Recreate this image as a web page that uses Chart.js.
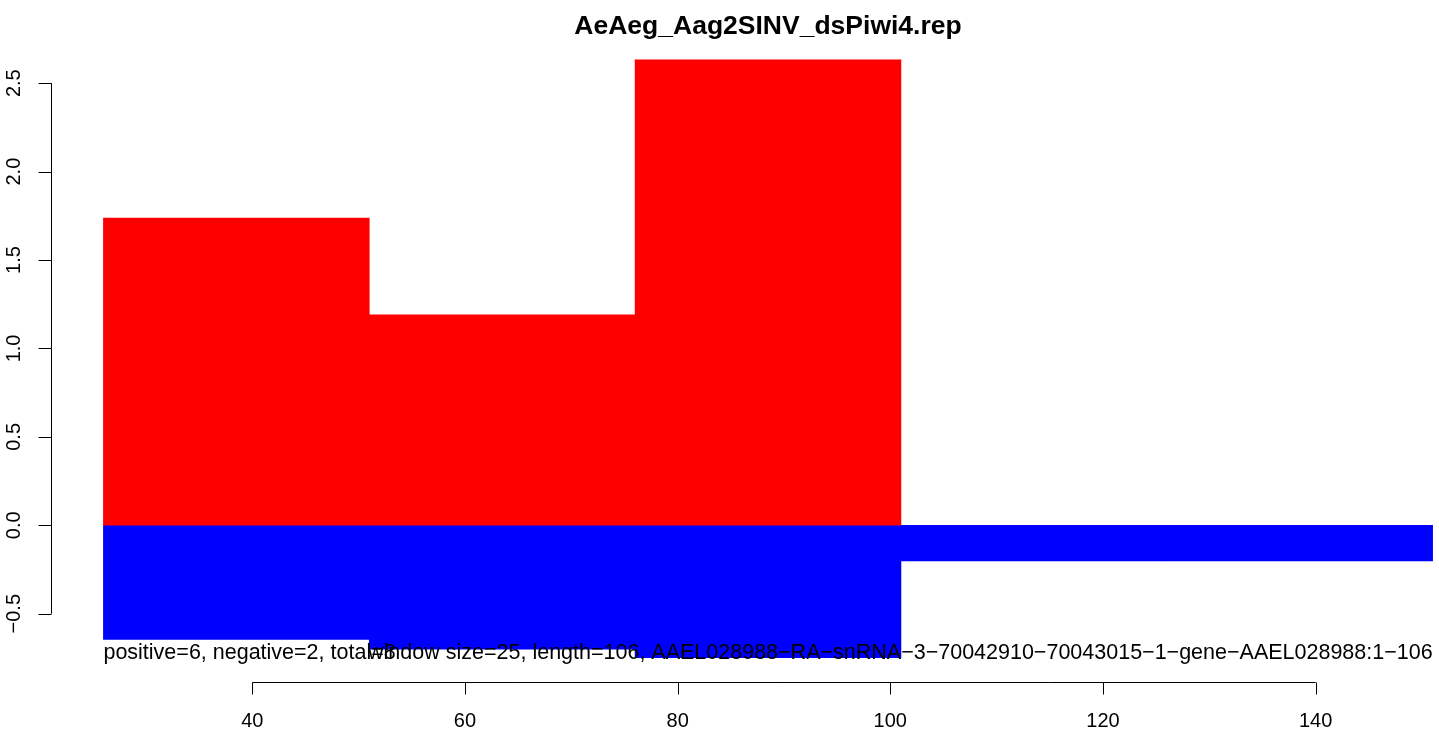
<!DOCTYPE html>
<html>
<head>
<meta charset="utf-8">
<script src="https://cdn.jsdelivr.net/npm/chart.js@4/dist/chart.umd.min.js"></script>
<style>
  html, body { margin: 0; padding: 0; background: #fff; }
  canvas { display: block; }
</style>
</head>
<body>
<canvas id="c" width="1439" height="732"></canvas>
<script>
// ── data ──────────────────────────────
const binEdges   = [26, 51, 76, 101, 126, 151];           // window size 25
const binCentres = [38.5, 63.5, 88.5, 113.5, 138.5];
const positive   = [1.738, 1.19, 2.632, null, null];
const negative   = [-0.645, -0.70, -0.749, -0.202, -0.202];
const xTicks     = [40, 60, 80, 100, 120, 140];
const yTicks     = [-0.5, 0, 0.5, 1, 1.5, 2, 2.5];
const yTickLabels = ['\u22120.5', '0.0', '0.5', '1.0', '1.5', '2.0', '2.5'];
const title      = 'AeAeg_Aag2SINV_dsPiwi4.rep';
const noteLeft   = 'positive=6, negative=2, total=8';
const noteRight  = 'window size=25, length=106, AAEL028988\u2212RA\u2212snRNA\u22123\u221270042910\u221270043015\u22121\u2212gene\u2212AAEL028988:1\u2212106';

const FONT = '"Liberation Sans", Arial, Helvetica, sans-serif';

// R-style axes, title and notes
const rAxes = {
  id: 'r-axes',
  afterDraw(chart) {
    const { ctx: c, scales: { x, y }, chartArea } = chart;
    c.save();
    c.strokeStyle = '#000'; c.fillStyle = '#000'; c.lineWidth = 1;

    // y axis
    const ax = Math.round(chartArea.left) + 0.5;
    c.beginPath();
    c.moveTo(ax, y.getPixelForValue(yTicks[0]));
    c.lineTo(ax, y.getPixelForValue(yTicks[yTicks.length - 1]));
    yTicks.forEach(v => {
      const py = Math.round(y.getPixelForValue(v)) + 0.5;
      c.moveTo(ax, py); c.lineTo(ax - 13, py);
    });
    c.stroke();
    c.font = '20px ' + FONT;
    c.textAlign = 'center'; c.textBaseline = 'alphabetic';
    yTicks.forEach((v, i) => {
      c.save();
      c.translate(20, y.getPixelForValue(v));
      c.rotate(-Math.PI / 2);
      c.fillText(yTickLabels[i], 0, 0);
      c.restore();
    });

    // x axis
    const ay = Math.round(chartArea.bottom) + 0.5;
    c.beginPath();
    c.moveTo(x.getPixelForValue(xTicks[0]), ay);
    c.lineTo(x.getPixelForValue(xTicks[xTicks.length - 1]), ay);
    xTicks.forEach(v => {
      const px = Math.round(x.getPixelForValue(v)) + 0.5;
      c.moveTo(px, ay); c.lineTo(px, ay + 12);
    });
    c.stroke();
    xTicks.forEach(v => c.fillText(String(v), x.getPixelForValue(v), 727));

    // notes under the bars
    c.font = '21.5px ' + FONT;
    c.textAlign = 'left';
    c.fillText(noteLeft, x.getPixelForValue(binEdges[0]), 659);
    c.textAlign = 'right';
    c.fillText(noteRight, x.getPixelForValue(binEdges[binEdges.length - 1]), 659);

    // title, centred on the plot region (which runs past the canvas edge)
    c.font = 'bold 26.5px ' + FONT;
    c.textAlign = 'center';
    c.fillText(title, x.getPixelForValue(88.5), 34);
    c.restore();
  }
};

new Chart(document.getElementById('c'), {
  type: 'bar',
  data: {
    datasets: [
      { label: 'positive', data: binCentres.map((b, i) => ({ x: b, y: positive[i] })),
        backgroundColor: '#ff0000', borderWidth: 0 },
      { label: 'negative', data: binCentres.map((b, i) => ({ x: b, y: negative[i] })),
        backgroundColor: '#0000ff', borderWidth: 0 }
    ]
  },
  options: {
    responsive: false, animation: false,
    layout: { padding: { left: 51, right: 0, top: 36, bottom: 50.4 } },
    datasets: { bar: { grouped: false, barPercentage: 1, categoryPercentage: 1 } },
    plugins: { legend: { display: false }, title: { display: false }, tooltip: { enabled: false } },
    scales: {
      x: {
        type: 'linear', min: 21.07, max: 151.6, offset: false, display: false,
        // bin edges as (hidden) ticks so bars span the full window
        afterBuildTicks: axis => { axis.ticks = binEdges.map(v => ({ value: v })); }
      },
      y: { min: -0.884, max: 2.767, display: false }
    }
  },
  plugins: [rAxes]
});
</script>
</body>
</html>
